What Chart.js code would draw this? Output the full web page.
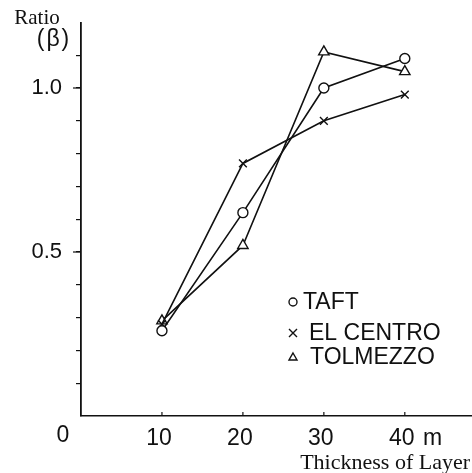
<!DOCTYPE html>
<html>
<head>
<meta charset="utf-8">
<script src="https://cdn.jsdelivr.net/npm/chart.js@4/dist/chart.umd.min.js"></script>
<style>
  html, body { margin: 0; padding: 0; background: #fff; }
  canvas { display: block; }
</style>
</head>
<body>
<canvas id="chart" width="472" height="473"></canvas>
<script>
// 데이터
const thickness = [10, 20, 30, 40];
const taft = [0.26, 0.62, 1.00, 1.09];
const elCentro = [0.28, 0.77, 0.90, 0.98];
const tolmezzo = [0.29, 0.52, 1.11, 1.05];

const seriesNames = ['TAFT', 'EL CENTRO', 'TOLMEZZO'];
const xTicks = [0, 10, 20, 30, 40];
const yTicks = [0.1, 0.2, 0.3, 0.4, 0.5, 0.6, 0.7, 0.8, 0.9, 1.0, 1.1];
const yMajor = [0.5, 1.0];

const SANS = '"Liberation Sans", Arial, sans-serif';
const SERIF = '"Liberation Serif", "Times New Roman", serif';

function toPoints(values) {
    return thickness.map((t, i) => ({ x: t, y: values[i] }));
}

function makeDataset(label, values, style, radius) {
    return {
        label: label,
        data: toPoints(values),
        borderColor: '#111',
        backgroundColor: '#fff',
        borderWidth: 1.6,
        pointStyle: style,
        pointRadius: radius,
        pointBorderWidth: 1.4,
        pointBackgroundColor: '#fff',
        pointBorderColor: '#111',
        tension: 0,
        fill: false
    };
}

// 범례 마커
function drawMarker(ctx, style, x, y, r) {
    ctx.save();
    ctx.strokeStyle = '#111';
    ctx.fillStyle = '#fff';
    ctx.lineWidth = 1.4;
    ctx.beginPath();
    if (style === 'circle') {
        ctx.arc(x, y, r, 0, Math.PI * 2);
        ctx.fill();
        ctx.stroke();
    } else if (style === 'cross') {
        ctx.moveTo(x - r, y - r); ctx.lineTo(x + r, y + r);
        ctx.moveTo(x + r, y - r); ctx.lineTo(x - r, y + r);
        ctx.stroke();
    } else {
        ctx.moveTo(x, y - r);
        ctx.lineTo(x + r, y + r * 0.75);
        ctx.lineTo(x - r, y + r * 0.75);
        ctx.closePath();
        ctx.fill();
        ctx.stroke();
    }
    ctx.restore();
}

const extraText = {
    id: 'extraText',
    afterDraw(chart) {
        const ctx = chart.ctx;
        const xs = chart.scales.x;
        const ys = chart.scales.y;
        const area = chart.chartArea;
        ctx.save();
        ctx.fillStyle = '#111';
        ctx.strokeStyle = '#111';

        // x축 안쪽 눈금
        ctx.lineWidth = 1.2;
        thickness.forEach(t => {
            const px = xs.getPixelForValue(t);
            ctx.beginPath();
            ctx.moveTo(px, area.bottom);
            ctx.lineTo(px, area.bottom - 4);
            ctx.stroke();
        });

        // 0.5, 1.0 은 긴 눈금
        yMajor.forEach(v => {
            const py = ys.getPixelForValue(v);
            ctx.beginPath();
            ctx.moveTo(area.left - 8, py);
            ctx.lineTo(area.left, py);
            ctx.stroke();
        });

        // 축 제목
        ctx.font = '21px ' + SERIF;
        ctx.textAlign = 'center';
        ctx.textBaseline = 'alphabetic';
        ctx.fillText('Ratio', 37, 24);
        ctx.font = '23px ' + SANS;
        ctx.textBaseline = 'middle';
        ctx.letterSpacing = '2px';
        ctx.fillText('(β)', 54, 40);
        ctx.letterSpacing = '0px';

        ctx.font = '23px ' + SANS;
        ctx.fillText('0', 63, 436);
        ctx.textAlign = 'left';
        ctx.textBaseline = 'alphabetic';
        ctx.fillText('m', 423, 445);

        ctx.font = '22px ' + SERIF;
        ctx.textAlign = 'right';
        ctx.fillText('Thickness of Layer', 470, 469);

        // 범례
        const styles = ['circle', 'cross', 'triangle'];
        const rows = [302, 333, 357];
        const textX = [303, 309, 310];
        ctx.font = '23px ' + SANS;
        ctx.textAlign = 'left';
        ctx.textBaseline = 'middle';
        seriesNames.forEach((name, i) => {
            drawMarker(ctx, styles[i], 293, rows[i], 4);
            ctx.fillStyle = '#111';
            ctx.fillText(name, textX[i], rows[i] + 1);
        });
        ctx.restore();
    }
};

new Chart(document.getElementById('chart').getContext('2d'), {
    type: 'line',
    data: {
        datasets: [
            makeDataset(seriesNames[0], taft, 'circle', 5),
            makeDataset(seriesNames[1], elCentro, 'crossRot', 5.5),
            makeDataset(seriesNames[2], tolmezzo, 'triangle', 6)
        ]
    },
    options: {
        responsive: false,
        animation: false,
        layout: { autoPadding: false, padding: { top: 22.4, right: 0, left: 0, bottom: 0 } },
        plugins: {
            legend: { display: false },
            tooltip: { enabled: false }
        },
        scales: {
            x: {
                type: 'linear',
                min: 0,
                max: 48.3,
                afterFit: s => { s.height = 57; s.paddingLeft = 0; s.paddingRight = 0; },
                afterBuildTicks: s => { s.ticks = xTicks.map(v => ({ value: v })); },
                grid: { drawOnChartArea: false, drawTicks: false },
                border: { display: true, color: '#111', width: 1.6 },
                ticks: {
                    color: '#111',
                    padding: 9,
                    labelOffset: -3,
                    maxRotation: 0,
                    autoSkip: false,
                    font: { family: SANS, size: 23 },
                    callback: v => (v === 0 ? '' : String(v))
                }
            },
            y: {
                min: 0,
                max: 1.2,
                afterFit: s => { s.width = 81; s.paddingTop = 0; s.paddingBottom = 0; },
                afterBuildTicks: s => { s.ticks = yTicks.map(v => ({ value: v })); },
                grid: {
                    drawOnChartArea: false,
                    drawTicks: true,
                    tickLength: 5,
                    color: '#111',
                    lineWidth: 1.2
                },
                border: { display: true, color: '#111', width: 1.8 },
                ticks: {
                    color: '#111',
                    padding: 14,
                    autoSkip: false,
                    font: { family: SANS, size: 22 },
                    callback: v => (yMajor.some(m => Math.abs(m - v) < 1e-6) ? v.toFixed(1) : '')
                }
            }
        }
    },
    plugins: [extraText]
});
</script>
</body>
</html>
